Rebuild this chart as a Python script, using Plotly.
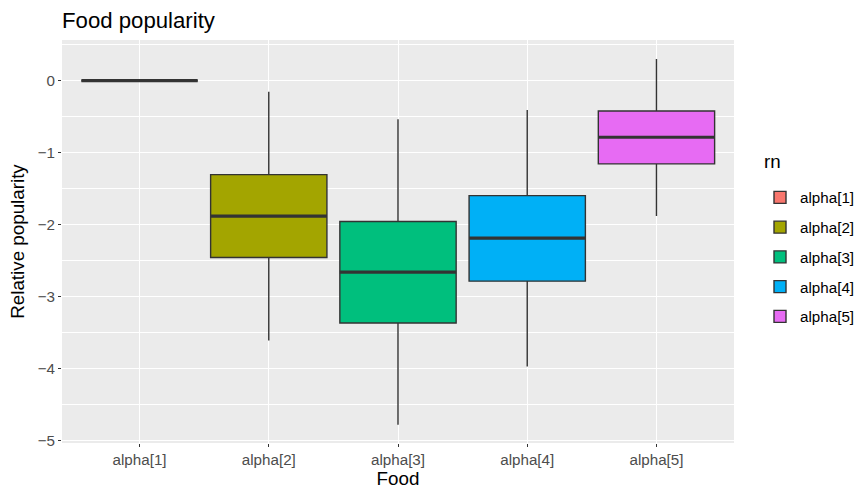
import plotly.graph_objects as go

categories = ["alpha[1]", "alpha[2]", "alpha[3]", "alpha[4]", "alpha[5]"]
lower_whisker = [0.0, -3.606, -4.775, -3.967, -1.877]
q1_vals = [0.0, -2.455, -3.365, -2.783, -1.155]
median_vals = [0.0, -1.881, -2.658, -2.186, -0.785]
q3_vals = [0.0, -1.304, -1.955, -1.595, -0.420]
upper_whisker = [0.0, -0.153, -0.535, -0.406, 0.300]
colors = ["#F8766D", "#A3A500", "#00BF7D", "#00B0F6", "#E76BF3"]
y_ticks = [0, -1, -2, -3, -4, -5]
y_tick_labels = ["0", "\u22121", "\u22122", "\u22123", "\u22124", "\u22125"]
legend_title = "rn"

FONT = "Liberation Sans, Arial, sans-serif"
BOX_W = 0.9
TICK_SIZE = 15.2
AXTITLE_SIZE = 18.8
TITLE_SIZE = 22.2

fig = go.Figure()
for i, cat in enumerate(categories):
    fig.add_trace(go.Box(
        x=[i], q1=[q1_vals[i]], median=[median_vals[i]], q3=[q3_vals[i]],
        lowerfence=[lower_whisker[i]], upperfence=[upper_whisker[i]],
        name=cat, legendgroup=cat, width=BOX_W, whiskerwidth=0,
        fillcolor=colors[i], line=dict(color="#333333", width=1.4),
        boxpoints=False, hoverinfo="skip",
    ))
for i, cat in enumerate(categories):
    fig.add_trace(go.Scatter(
        x=[i - BOX_W / 2, i + BOX_W / 2], y=[median_vals[i], median_vals[i]],
        mode="lines", line=dict(color="#333333", width=3.2),
        showlegend=False, hoverinfo="skip", legendgroup=cat,
    ))

fig.add_annotation(
    text=legend_title, xref="paper", yref="paper",
    x=1 + (762 - 734) / 672, xanchor="left",
    y=(443.5 - 162) / 403.5, yanchor="middle",
    showarrow=False, font=dict(size=AXTITLE_SIZE, color="#000000", family=FONT),
)

fig.update_layout(
    width=861, height=493,
    margin=dict(l=62, r=127, t=40, b=49.5, autoexpand=False),
    paper_bgcolor="white", plot_bgcolor="#EBEBEB",
    font=dict(family=FONT, color="#000000"),
    title=dict(text="Food popularity", x=62 / 861, xanchor="left",
               xref="container", y=1 - 20 / 493, yanchor="middle", yref="container",
               font=dict(size=TITLE_SIZE, color="#000000", family=FONT)),
    showlegend=True,
    legend=dict(
        font=dict(size=TICK_SIZE, color="#000000"),
        xref="container", yref="container",
        x=760 / 861, xanchor="left", y=1 - 181 / 493, yanchor="top",
        tracegroupgap=7, itemwidth=30, bgcolor="rgba(0,0,0,0)",
    ),
    xaxis=dict(
        range=[-0.6, 4.6], tickvals=list(range(len(categories))), ticktext=categories,
        showgrid=True, gridcolor="white", gridwidth=1.3, zeroline=False,
        ticks="outside", ticklen=3, tickcolor="#333333", tickwidth=1.1,
        tickfont=dict(size=TICK_SIZE, color="#4D4D4D"), automargin=False,
        title=dict(text="Food", font=dict(size=AXTITLE_SIZE, color="#000000"), standoff=3),
        showline=False,
    ),
    yaxis=dict(
        range=[-5.03, 0.565], tickvals=y_ticks, ticktext=y_tick_labels,
        showgrid=True, gridcolor="white", gridwidth=1.3, zeroline=False,
        ticks="outside", ticklen=3, tickcolor="#333333", tickwidth=1.1,
        tickfont=dict(size=TICK_SIZE, color="#4D4D4D"), automargin=False,
        minor=dict(dtick=0.5, tick0=0, showgrid=True, gridcolor="white", gridwidth=0.6, ticks=""),
        title=dict(text="Relative popularity", font=dict(size=AXTITLE_SIZE, color="#000000"), standoff=8),
        showline=False,
    ),
)

fig.write_html("out.html", config={"displayModeBar": False},
               post_script="document.body.style.margin='0';")
